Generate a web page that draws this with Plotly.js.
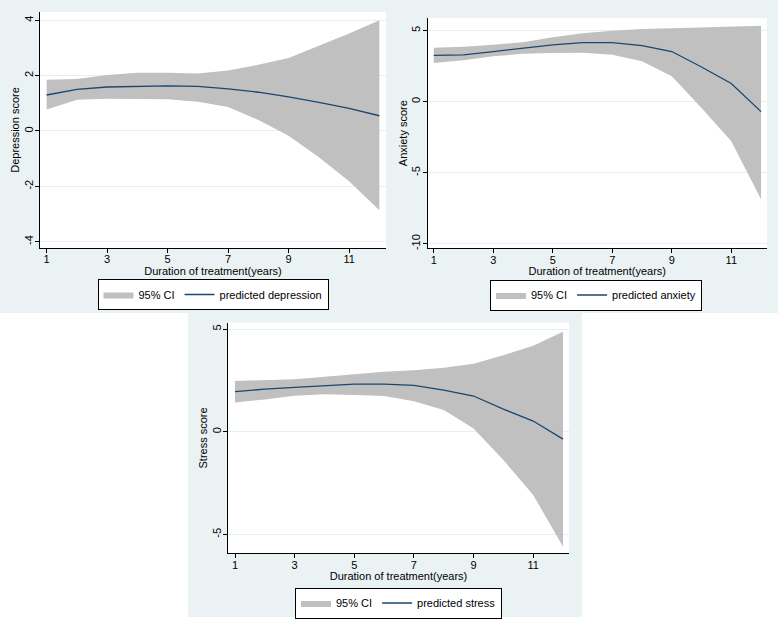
<!DOCTYPE html>
<html>
<head>
<meta charset="utf-8">
<script src="https://cdn.plot.ly/plotly-3.0.1.min.js"></script>
<style>html,body{margin:0;padding:0;background:#fff;}#chart{width:778px;height:619px;}</style>
</head>
<body>
<div id="chart"></div>
<script>
// ---- data ----
const years = [1, 2, 3, 4, 5, 6, 7, 8, 9, 10, 11, 12];
const xTicks = [1, 3, 5, 7, 9, 11];

const depPred  = [1.30, 1.50, 1.59, 1.62, 1.63, 1.61, 1.52, 1.40, 1.23, 1.03, 0.82, 0.55];
const depUpper = [1.85, 1.88, 2.02, 2.10, 2.10, 2.08, 2.19, 2.39, 2.64, 3.08, 3.52, 4.00];
const depLower = [0.78, 1.13, 1.16, 1.16, 1.15, 1.06, 0.87, 0.40, -0.17, -0.95, -1.82, -2.87];
const depTicks = [-4, -2, 0, 2, 4];

const anxPred  = [3.26, 3.30, 3.53, 3.77, 4.00, 4.16, 4.16, 3.95, 3.53, 2.44, 1.28, -0.70];
const anxUpper = [3.80, 3.86, 4.00, 4.19, 4.53, 4.81, 5.00, 5.12, 5.16, 5.23, 5.30, 5.35];
const anxLower = [2.72, 2.91, 3.19, 3.37, 3.42, 3.44, 3.30, 2.84, 1.79, -0.45, -2.79, -6.86];
const anxTicks = [-10, -5, 0, 5];

const strPred  = [1.95, 2.08, 2.16, 2.24, 2.32, 2.32, 2.26, 2.03, 1.74, 1.10, 0.52, -0.36];
const strUpper = [2.47, 2.50, 2.56, 2.68, 2.81, 2.92, 3.00, 3.12, 3.31, 3.73, 4.19, 4.87];
const strLower = [1.43, 1.57, 1.75, 1.82, 1.79, 1.74, 1.49, 1.06, 0.16, -1.38, -3.08, -5.60];
const strTicks = [-5, 0, 5];

const ciName = '95% CI';
const xTitle = 'Duration of treatment(years)';
const panels = [
  {key: '', legend: 'legend', pred: depPred, up: depUpper, lo: depLower, predName: 'predicted depression'},
  {key: '2', legend: 'legend2', pred: anxPred, up: anxUpper, lo: anxLower, predName: 'predicted anxiety'},
  {key: '3', legend: 'legend3', pred: strPred, up: strUpper, lo: strLower, predName: 'predicted stress'}
];

// ---- styles ----
const W = 778, H = 619;
const FONT = '"Liberation Sans", Arial, sans-serif';
const FS = 11;
const NAVY = '#1a476f';
const CI = '#c0c0c0';
const BG = '#eaf2f3';
const GRID = '#e6eef0';

const traces = [];
panels.forEach(p => {
  const xa = 'x' + p.key, ya = 'y' + p.key;
  traces.push({x: years, y: p.lo, xaxis: xa, yaxis: ya, type: 'scatter', mode: 'lines',
    line: {width: 0, color: CI}, showlegend: false, hoverinfo: 'skip', legend: p.legend});
  traces.push({x: years, y: p.up, xaxis: xa, yaxis: ya, type: 'scatter', mode: 'lines',
    fill: 'tonexty', fillcolor: CI, line: {width: 0, color: CI}, name: ciName, legend: p.legend});
  traces.push({x: years, y: p.pred, xaxis: xa, yaxis: ya, type: 'scatter', mode: 'lines',
    line: {width: 1.3, color: NAVY}, name: p.predName, legend: p.legend});
});

function px(x) { return x / W; }
function py(y) { return 1 - y / H; }

function xAxis(l, r, rng, anchor) {
  return {domain: [px(l), px(r)], range: rng, anchor: anchor,
    tickvals: xTicks, ticktext: xTicks.map(String),
    showline: true, linecolor: '#000', linewidth: 1, ticks: 'outside', ticklen: 4, tickcolor: '#000',
    ticklabelstandoff: -3,
    showgrid: false, zeroline: false, automargin: false,
    tickfont: {family: FONT, size: FS, color: '#000'},
    title: {text: xTitle, font: {family: FONT, size: FS, color: '#000'}, standoff: 2}};
}
function yAxis(top, bot, rng, ticks, anchor, title) {
  return {domain: [py(bot), py(top)], range: rng, anchor: anchor,
    tickvals: ticks, ticktext: ticks.map(String), tickangle: -90,
    showline: true, linecolor: '#000', linewidth: 1, ticks: 'outside', ticklen: 4, tickcolor: '#000',
    ticklabelstandoff: -2,
    showgrid: true, gridcolor: GRID, gridwidth: 1, zeroline: false, automargin: false,
    tickfont: {family: FONT, size: FS, color: '#000'},
    title: {text: title, font: {family: FONT, size: FS, color: '#000'}, standoff: 0}};
}
function legendBox(cx, cy) {
  return {x: px(cx), y: py(cy), xanchor: 'center', yanchor: 'middle', orientation: 'h',
    bgcolor: '#fff', bordercolor: '#000', borderwidth: 1,
    font: {family: FONT, size: FS, color: '#000'}, traceorder: 'normal'};
}

const layout = {
  width: W, height: H, autosize: false,
  margin: {l: 0, r: 0, t: 0, b: 0, pad: 0},
  paper_bgcolor: BG, plot_bgcolor: '#fff',
  showlegend: true,
  xaxis:  xAxis(40, 386, [0.78, 12.22], 'y'),
  yaxis:  yAxis(12, 248, [-4.23, 4.30], depTicks, 'x', 'Depression score'),
  xaxis2: xAxis(427.5, 767, [0.79, 12.2], 'y2'),
  yaxis2: yAxis(18, 248.3, [-10.32, 5.89], anxTicks, 'x2', 'Anxiety score'),
  xaxis3: xAxis(228, 569, [0.765, 12.2], 'y3'),
  yaxis3: yAxis(322.5, 553.3, [-5.92, 5.32], strTicks, 'x3', 'Stress score'),
  legend:  legendBox(213, 294.5),
  legend2: legendBox(596, 295),
  legend3: legendBox(398.5, 603),
  shapes: [
    {type: 'rect', xref: 'paper', yref: 'paper', x0: 0, x1: px(188), y0: 0, y1: py(313),
      fillcolor: '#fff', line: {width: 0}, layer: 'below'},
    {type: 'rect', xref: 'paper', yref: 'paper', x0: px(582), x1: 1, y0: 0, y1: py(313),
      fillcolor: '#fff', line: {width: 0}, layer: 'below'},
    {type: 'rect', xref: 'paper', yref: 'paper', x0: px(188), x1: px(582), y0: 0, y1: py(617),
      fillcolor: '#fff', line: {width: 0}, layer: 'below'}
  ]
};

Plotly.newPlot('chart', traces, layout, {staticPlot: true, displayModeBar: false});
</script>
</body>
</html>
